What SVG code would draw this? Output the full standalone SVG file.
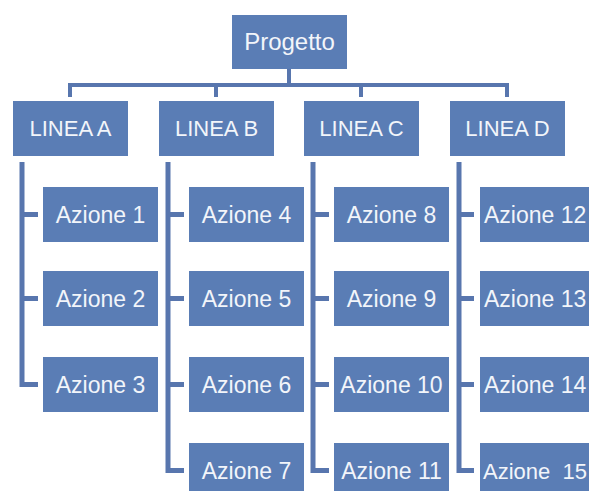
<svg xmlns="http://www.w3.org/2000/svg" width="589" height="491" viewBox="0 0 589 491">
<style>
.box{fill:#5a7db5}
.t{font-family:"Liberation Sans",Arial,sans-serif;font-size:23px;fill:#f2f5fa;text-anchor:middle}
.ts{font-family:"Liberation Sans",Arial,sans-serif;font-size:23px;fill:#f2f5fa;text-anchor:start}
.l{font-size:22px}
.c{fill:none;stroke:#5876ae;stroke-width:5;stroke-linejoin:miter}
</style>
<rect width="589" height="491" fill="#ffffff"/>
<g id="connectors">
<path class="c" style="stroke-width:4" d="M289 69V85M70 97V85H507V97M216 85V97M361 85V97"/>
<path class="c" d="M22 162V384.5H38M22 214.5H38M22 298.5H38"/>
<path class="c" d="M168 162V470.5H184M168 214.5H184M168 298.5H184M168 384.5H184"/>
<path class="c" d="M313 162V470.5H329M313 214.5H329M313 298.5H329M313 384.5H329"/>
<path class="c" d="M459 162V470.5H474M459 214.5H474M459 298.5H474M459 384.5H474"/>
</g>
<g id="progetto"><rect class="box" x="232" y="15" width="115" height="54"/><text class="t" x="289.5" y="50" style="font-size:24px">Progetto</text></g>
<g id="lineaA"><rect class="box" x="13" y="101" width="115" height="55"/><text class="t l" x="70.5" y="136">LINEA A</text></g>
<g id="lineaB"><rect class="box" x="159" y="101" width="115" height="55"/><text class="t l" x="216.5" y="136">LINEA B</text></g>
<g id="lineaC"><rect class="box" x="304" y="101" width="115" height="55"/><text class="t l" x="361.5" y="136">LINEA C</text></g>
<g id="lineaD"><rect class="box" x="450" y="101" width="115" height="55"/><text class="t l" x="507.5" y="136">LINEA D</text></g>
<g id="azione1"><rect class="box" x="43" y="187" width="115" height="55"/><text class="t" x="100.5" y="222.5">Azione 1</text></g>
<g id="azione2"><rect class="box" x="43" y="271" width="115" height="55"/><text class="t" x="100.5" y="306.5">Azione 2</text></g>
<g id="azione3"><rect class="box" x="43" y="357" width="115" height="55"/><text class="t" x="100.5" y="392.5">Azione 3</text></g>
<g id="azione4"><rect class="box" x="189" y="187" width="115" height="55"/><text class="t" x="246.5" y="222.5">Azione 4</text></g>
<g id="azione5"><rect class="box" x="189" y="271" width="115" height="55"/><text class="t" x="246.5" y="306.5">Azione 5</text></g>
<g id="azione6"><rect class="box" x="189" y="357" width="115" height="55"/><text class="t" x="246.5" y="392.5">Azione 6</text></g>
<g id="azione7"><rect class="box" x="189" y="443" width="115" height="55"/><text class="t" x="246.5" y="478.5">Azione 7</text></g>
<g id="azione8"><rect class="box" x="334" y="187" width="115" height="55"/><text class="t" x="391.5" y="222.5">Azione 8</text></g>
<g id="azione9"><rect class="box" x="334" y="271" width="115" height="55"/><text class="t" x="391.5" y="306.5">Azione 9</text></g>
<g id="azione10"><rect class="box" x="334" y="357" width="115" height="55"/><text class="t" x="391.5" y="392.5">Azione 10</text></g>
<g id="azione11"><rect class="box" x="334" y="443" width="115" height="55"/><text class="t" x="391.5" y="478.5">Azione 11</text></g>
<g id="azione12"><rect class="box" x="480" y="187" width="115" height="55"/><text class="ts" x="484" y="222.5">Azione 12</text></g>
<g id="azione13"><rect class="box" x="480" y="271" width="115" height="55"/><text class="ts" x="484" y="306.5">Azione 13</text></g>
<g id="azione14"><rect class="box" x="480" y="357" width="115" height="55"/><text class="ts" x="484" y="392.5">Azione 14</text></g>
<g id="azione15"><rect class="box" x="480" y="443" width="115" height="55"/><text class="ts" x="483" y="478.5" xml:space="preserve" style="white-space:pre;font-size:22px">Azione  15</text></g>
</svg>
